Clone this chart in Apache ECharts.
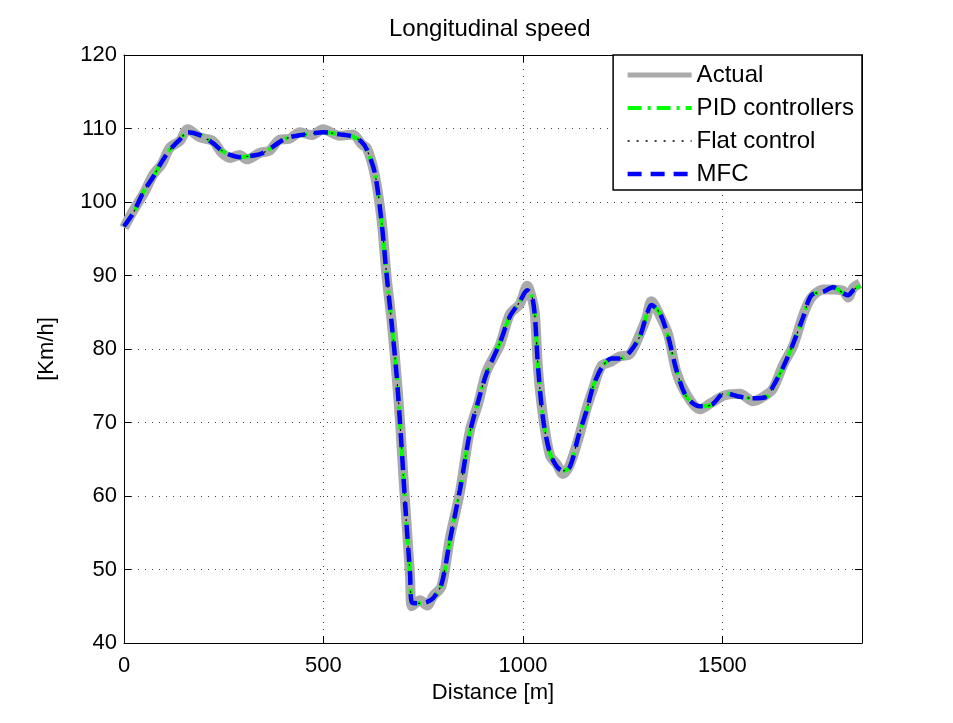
<!DOCTYPE html>
<html>
<head>
<meta charset="utf-8">
<script src="https://cdn.jsdelivr.net/npm/echarts@6/dist/echarts.min.js"></script>
<style>
    html, body { margin: 0; padding: 0; background: #fff; }
    #chart { width: 953px; height: 723px; }
</style>
</head>
<body>
<div id="chart"></div>
<script>
var distance = [
    0, 23, 50, 73, 95, 115, 140, 160, 190, 223, 245, 266, 290, 308, 341, 365,
    391, 415, 441, 470, 499, 541, 574, 595, 609, 629, 646, 658, 671, 683, 692,
    700, 708, 717, 722, 742, 760, 775, 796, 817, 842, 867, 888, 909, 942, 967,
    992, 1011, 1022, 1030, 1038, 1051, 1068, 1085, 1100, 1118, 1139, 1160, 1176,
    1197, 1222, 1243, 1268, 1293, 1310, 1322, 1343, 1364, 1385, 1410, 1444, 1473,
    1506, 1544, 1577, 1611, 1627, 1653, 1678, 1703, 1723, 1753, 1778, 1803, 1815,
    1828, 1845
];

// controller outputs (PID, flat, MFC lie on top of each other)
var controlSpeed = [
    96.7, 98.5, 101.5, 103.4, 105.5, 107.1, 108.5, 109.5, 109.1, 108.0, 107.0,
    106.4, 106.1, 106.2, 106.5, 107.2, 108.2, 108.8, 109.1, 109.3, 109.5, 109.2,
    108.9, 108.2, 107.1, 103.9, 97.1, 90.3, 83.5, 76.7, 69.9, 63.1, 56.3, 49.5,
    45.5, 45.4, 45.6, 46.1, 48.0, 54.0, 60.8, 68.6, 72.9, 76.7, 80.8, 84.4,
    86.4, 88.0, 87.3, 84.5, 77.5, 70.3, 65.8, 64.0, 63.4, 64.0, 68.1, 71.7,
    74.9, 77.4, 78.7, 78.7, 79.6, 81.7, 84.6, 86.0, 84.9, 81.7, 77.1, 73.5,
    72.2, 72.4, 74.0, 73.5, 73.3, 73.5, 74.9, 77.6, 80.8, 84.4, 87.3, 87.8,
    88.4, 87.6, 87.3, 88.0, 88.6
];

// measured speed, a bit noisier
var actualSpeed = [
    96.5, 98.8, 101.2, 103.7, 105.2, 107.4, 108.3, 109.9, 108.8, 108.3, 106.7,
    106.0, 106.4, 105.8, 106.7, 107.0, 108.5, 108.6, 109.5, 109.1, 109.9, 109.0,
    109.2, 107.9, 107.3, 103.6, 97.4, 90.0, 83.7, 76.5, 70.1, 62.9, 56.5, 49.2,
    45.0, 45.8, 45.1, 46.4, 47.7, 54.3, 60.5, 68.9, 72.6, 77.0, 80.5, 84.7,
    86.1, 88.6, 87.0, 84.8, 77.2, 70.6, 65.5, 64.3, 63.0, 64.3, 67.8, 72.0,
    74.6, 77.7, 78.3, 79.0, 79.3, 82.0, 84.3, 86.5, 84.6, 82.0, 76.8, 73.8,
    71.8, 72.7, 73.7, 73.9, 72.9, 73.8, 74.6, 77.9, 80.5, 84.7, 87.0, 88.1,
    88.1, 87.9, 87.0, 88.3, 88.9
];

var legendNames = ["Actual", "PID controllers", "Flat control", "MFC"];

function pairs(vals) {
    return distance.map(function (d, i) { return [d, vals[i]]; });
}

var font = "'Liberation Sans', Arial, Helvetica, sans-serif";

var gridDots = {
    show: true,
    lineStyle: { color: "#444", width: 1, type: [1, 6] },
};

var frameLine = { show: true, onZero: false, lineStyle: { color: "#000", width: 1 } };
var frameTick = { show: true, inside: true, length: 7, lineStyle: { color: "#000" } };

var chart = echarts.init(document.getElementById("chart"));

chart.setOption({
    animation: false,
    backgroundColor: "#fff",
    title: {
        text: "Longitudinal speed",
        left: 384,
        top: 12,
        textStyle: { fontFamily: font, fontSize: 24, fontWeight: "normal", color: "#000" },
    },
    grid: {
        left: 124,
        top: 55,
        width: 738,
        height: 588,
    },
    legend: {
        orient: "vertical",
        right: 91,
        top: 55,
        padding: [8, 8, 4, 12],
        itemWidth: 64,
        itemHeight: 20,
        itemGap: 9,
        backgroundColor: "#fff",
        borderColor: "#000",
        borderWidth: 1.5,
        borderRadius: 0,
        itemStyle: { opacity: 0 },
        textStyle: { fontFamily: font, fontSize: 24, color: "#000" },
        data: [
            { name: legendNames[0], lineStyle: { width: 5 } },
            { name: legendNames[1], lineStyle: { width: 4 } },
            { name: legendNames[2], lineStyle: { width: 1.5 } },
            { name: legendNames[3], lineStyle: { width: 4.5 } },
        ],
    },
    xAxis: [
        {
            type: "value",
            min: 0,
            max: 1850,
            interval: 500,
            name: "Distance [m]",
            nameLocation: "middle",
            nameGap: 36,
            nameTextStyle: { fontFamily: font, fontSize: 22, color: "#000" },
            axisLine: frameLine,
            axisTick: frameTick,
            axisLabel: {
                showMaxLabel: false,
                margin: 12,
                fontFamily: font,
                fontSize: 22,
                color: "#000",
                formatter: function (v) { return String(v); },
            },
            splitLine: gridDots,
        },
        {
            type: "value",
            position: "top",
            min: 0,
            max: 1850,
            interval: 500,
            axisLine: frameLine,
            axisTick: frameTick,
            axisLabel: { show: false },
            splitLine: { show: false },
        },
    ],
    yAxis: [
        {
            type: "value",
            min: 40,
            max: 120,
            interval: 10,
            name: "[Km/h]",
            nameLocation: "middle",
            nameGap: 66,
            nameTextStyle: { fontFamily: font, fontSize: 22, color: "#000" },
            axisLine: frameLine,
            axisTick: frameTick,
            axisLabel: {
                margin: 7,
                fontFamily: font,
                fontSize: 22,
                color: "#000",
            },
            splitLine: gridDots,
        },
        {
            type: "value",
            position: "right",
            min: 40,
            max: 120,
            interval: 10,
            axisLine: frameLine,
            axisTick: frameTick,
            axisLabel: { show: false },
            splitLine: { show: false },
        },
    ],
    series: [
        {
            name: "Actual",
            type: "line",
            showSymbol: false,
            symbol: "none",
            smooth: 0.3,
            color: "#aaaaaa",
            lineStyle: { color: "#aaaaaa", width: 10 },
            data: pairs(actualSpeed),
        },
        {
            name: "PID controllers",
            type: "line",
            showSymbol: false,
            symbol: "none",
            smooth: 0.3,
            color: "#00ff00",
            lineStyle: { color: "#00ff00", width: 4, type: [14, 6, 3, 6] },
            data: pairs(controlSpeed),
        },
        {
            name: "Flat control",
            type: "line",
            showSymbol: false,
            symbol: "none",
            smooth: 0.3,
            color: "#000",
            lineStyle: { color: "#000", width: 1.2, type: [2, 7] },
            data: pairs(controlSpeed),
        },
        {
            name: "MFC",
            type: "line",
            showSymbol: false,
            symbol: "none",
            smooth: 0.3,
            color: "#0000ff",
            lineStyle: { color: "#0000ff", width: 4.5, type: [14, 9] },
            data: pairs(controlSpeed),
        },
    ],
});
</script>
</body>
</html>
